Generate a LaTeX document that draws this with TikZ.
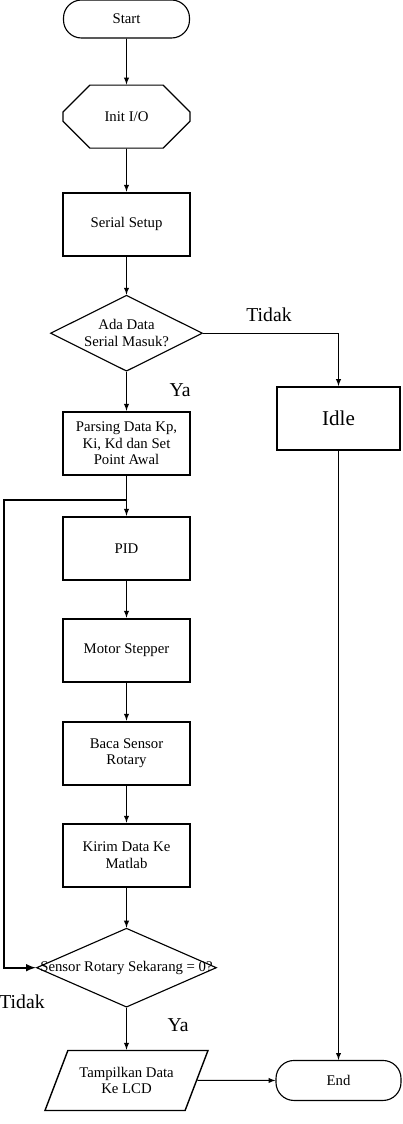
\documentclass[tikz,border=0pt]{standalone}
\usepackage{fontspec}
\setmainfont{Liberation Serif}
\usepackage{tikz}
\usetikzlibrary{positioning, calc, shapes.geometric, shapes.misc}

\begin{document}
\begin{tikzpicture}[
    node distance = 0.925cm,
    terminal/.style = {rectangle, draw, line width=0.8pt, rounded corners=0.45cm, minimum width=3.15cm, minimum height=0.95cm, font=\fontsize{10.5}{12}\selectfont},
    prep/.style = {chamfered rectangle, draw, line width=0.8pt, chamfered rectangle xsep=0.675cm, chamfered rectangle ysep=0.7875cm, minimum width=3.175cm, minimum height=1.575cm, inner sep=0pt, font=\fontsize{10.5}{12}\selectfont},
    process/.style = {rectangle, draw, line width=1.4pt, minimum width=3.175cm, minimum height=1.575cm, align=center, font=\fontsize{10.5}{12}\selectfont},
    decision/.style = {diamond, draw, line width=0.8pt, inner sep=0pt, aspect=2, align=center, font=\fontsize{10.5}{12}\selectfont},
    io/.style = {trapezium, trapezium left angle=58, trapezium right angle=122, trapezium stretches body, draw, line width=1pt, minimum width=4.075cm, minimum height=1.5cm, align=center, font=\fontsize{10.5}{12}\selectfont},
    lbl/.style = {font=\fontsize{14}{16}\selectfont},
    arrow/.style = {draw, -latex, line width=0.7pt},
    loopline/.style = {draw, -latex, line width=1.4pt}
]
    \useasboundingbox (0,0) rectangle (10.075,-28.1);

    % Main column
    \node (start) [terminal] at (3.1625,-0.475) {Start};
    \node (init) [prep, below=1.15cm of start] {Init I/O};
    \node (setup) [process, below=1.075cm of init] {Serial Setup};
    \node (cekdata) [decision, below=0.95cm of setup, minimum width=3.8cm, minimum height=1.9cm] {Ada Data\\Serial Masuk?};
    \node (parsing) [process, below=0.975cm of cekdata] {Parsing Data Kp,\\Ki, Kd dan Set\\Point Awal};
    \node (pid) [process, below=1.0cm of parsing] {PID};
    \node (motor) [process, below=of pid] {Motor Stepper};
    \node (baca) [process, below=0.95cm of motor] {Baca Sensor\\Rotary};
    \node (kirim) [process, below=of baca] {Kirim Data Ke\\Matlab};
    \node (cekrotary) [decision, below=1.0cm of kirim, minimum width=4.5cm, minimum height=1.975cm, label={center:\fontsize{10.5}{12}\selectfont Sensor Rotary Sekarang = 0?}] {};
    \node (tampil) [io, below=1.05cm of cekrotary] {Tampilkan Data\\Ke LCD};

    % Right column
    \node (idle) [process, minimum width=3.075cm, font=\fontsize{15}{17}\selectfont] at (8.4625,-10.4625) {Idle};
    \node (end) [terminal, minimum width=3.125cm, minimum height=1.0cm] at (idle |- tampil) {End};

    % Branch labels
    \node (tidaka) [lbl] at (6.725,-7.875) {Tidak};
    \node (yaa) [lbl] at (4.5,-9.75) {Ya};
    \node (tidakb) [lbl] at (0.55,-25.05) {Tidak};
    \node (yab) [lbl] at (4.45,-25.625) {Ya};

    % Loop points
    \coordinate (join) at ($(parsing.south)!0.6!(pid.north)$);
    \coordinate (back) at ($(cekrotary.west)+(-0.8,0)$);

    % Connections
    \draw [arrow] (start) -- (init);
    \draw [arrow] (init) -- (setup);
    \draw [arrow] (setup) -- (cekdata);
    \draw [arrow] (cekdata) -- (parsing);
    \draw [arrow] (parsing) -- (pid);
    \draw [arrow] (pid) -- (motor);
    \draw [arrow] (motor) -- (baca);
    \draw [arrow] (baca) -- (kirim);
    \draw [arrow] (kirim) -- (cekrotary);
    \draw [arrow] (cekrotary) -- (tampil);
    \draw [arrow] (tampil.east) -- (end.west);

    \path [arrow] (cekdata.east) -| (idle.north);
    \draw [arrow] (idle) -- (end);

    \path [loopline] (join) -| (back) -- (cekrotary.west);

\end{tikzpicture}
\end{document}
